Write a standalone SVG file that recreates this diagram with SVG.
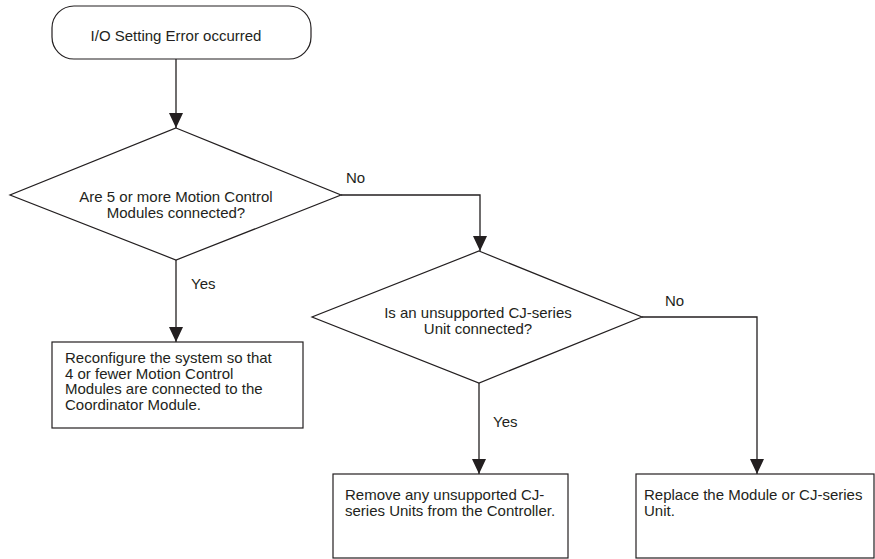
<svg xmlns="http://www.w3.org/2000/svg" width="875" height="559" viewBox="0 0 875 559">
  <defs>
    <marker id="arrow" viewBox="0 0 15 14" refX="15" refY="7" markerWidth="15" markerHeight="14" markerUnits="userSpaceOnUse" orient="auto">
      <path d="M0,0 L15,7 L0,14 Z" fill="#231f20"/>
    </marker>
    <style>
      .shape { fill: #ffffff; stroke: #231f20; stroke-width: 1.2; }
      .edge { fill: none; stroke: #231f20; stroke-width: 1.3; }
      text { font-family: "Liberation Sans", Arial, sans-serif; font-size: 15px; fill: #231f20; }
      .c { text-anchor: middle; }
    </style>
  </defs>
  <rect width="875" height="559" fill="#ffffff"/>

  <g id="connectors">
    <path class="edge" d="M176,59 V128" marker-end="url(#arrow)"/>
    <path class="edge" d="M341,195 H480 V251" marker-end="url(#arrow)"/>
    <path class="edge" d="M176,260 V342" marker-end="url(#arrow)"/>
    <path class="edge" d="M479,383 V474" marker-end="url(#arrow)"/>
    <path class="edge" d="M642,317 H757 V474" marker-end="url(#arrow)"/>
    <text x="346" y="183">No</text>
    <text x="191" y="289">Yes</text>
    <text x="665" y="306">No</text>
    <text x="493" y="427">Yes</text>
  </g>

  <g id="start">
    <rect class="shape" x="52" y="6" width="259" height="53" rx="22" ry="22"/>
    <text class="c" x="176" y="41">I/O Setting Error occurred</text>
  </g>

  <g id="check-motion-modules">
    <polygon class="shape" points="176,128 341,195 176,260 10,195"/>
    <text class="c" x="176" y="202">Are 5 or more Motion Control</text>
    <text class="c" x="176" y="218">Modules connected?</text>
  </g>

  <g id="reconfigure">
    <rect class="shape" x="52" y="342" width="251" height="86"/>
    <text x="65" y="363">Reconfigure the system so that</text>
    <text x="65" y="378.5">4 or fewer Motion Control</text>
    <text x="65" y="394">Modules are connected to the</text>
    <text x="65" y="409.5">Coordinator Module.</text>
  </g>

  <g id="check-cj-unit">
    <polygon class="shape" points="479,251 642,317 479,383 312,317"/>
    <text class="c" x="478" y="318">Is an unsupported CJ-series</text>
    <text class="c" x="478" y="334">Unit connected?</text>
  </g>

  <g id="remove-units">
    <rect class="shape" x="333" y="474" width="235" height="84"/>
    <text x="345" y="500">Remove any unsupported CJ-</text>
    <text x="345" y="516">series Units from the Controller.</text>
  </g>

  <g id="replace-module">
    <rect class="shape" x="636" y="474" width="238" height="84"/>
    <text x="644" y="500">Replace the Module or CJ-series</text>
    <text x="644" y="516">Unit.</text>
  </g>
</svg>
